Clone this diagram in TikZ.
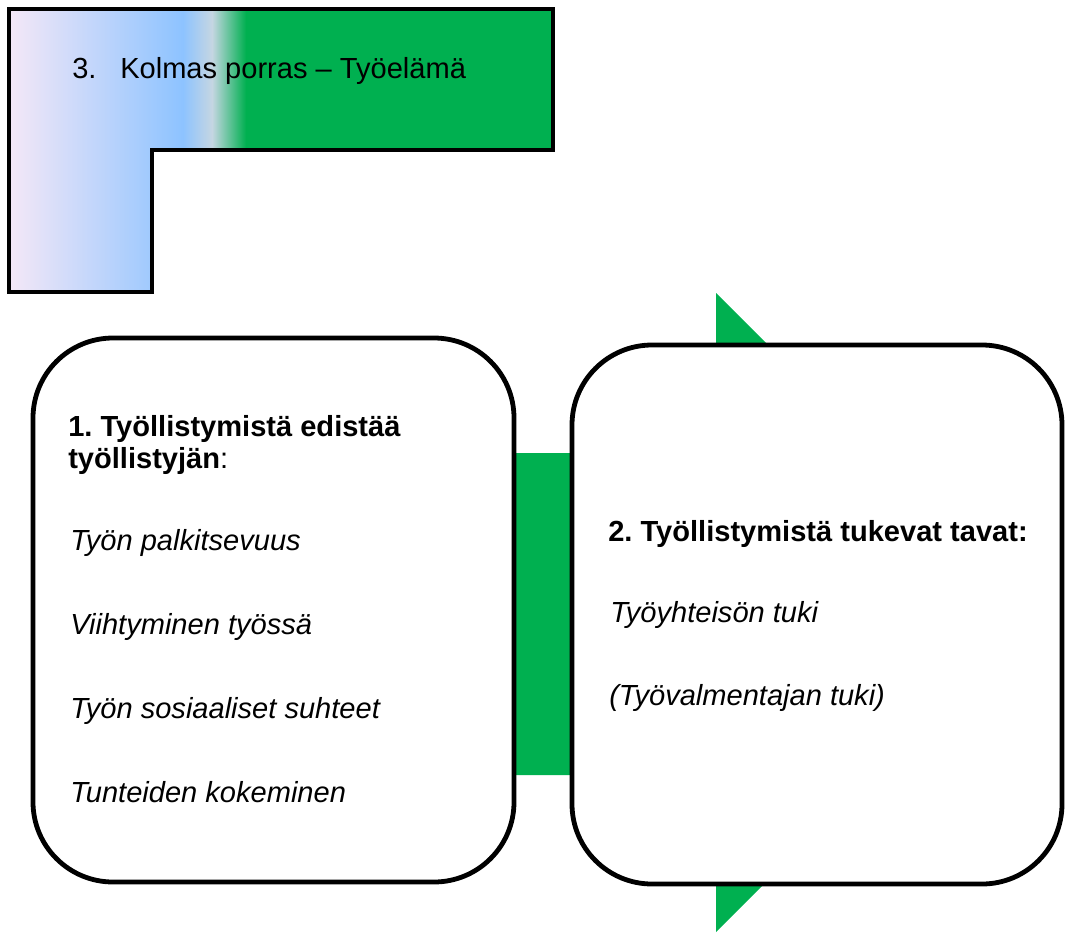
\documentclass[tikz,border=0pt]{standalone}
\usepackage{fontspec}
\setmainfont{Liberation Sans}
\frenchspacing
\begin{document}
\begin{tikzpicture}[x=0.75pt,y=-0.75pt,
  txt/.style={anchor=base west,inner sep=0pt,font=\fontsize{21.8}{24}\selectfont\frenchspacing},
  bx/.style={draw=black,line width=3.6pt,fill=white,rounded corners=60pt,inner sep=0pt},
]
\definecolor{grn}{HTML}{00B050}
\definecolor{lav}{HTML}{F5E8F7}
\definecolor{blu}{HTML}{8DC3FF}
\definecolor{gry}{HTML}{C5D6E2}
\useasboundingbox (0,0) rectangle (1074,932);
% big green arrow behind the boxes
\fill[grn] (300,453) -- (716,453) -- (716,293) -- (1035.5,612.5) -- (716,932) -- (716,775) -- (300,775) -- cycle;
% boxes
\node[bx,minimum width=481*0.75pt,minimum height=544*0.75pt] (left) at (273.5,610) {};
\node[bx,minimum width=490*0.75pt,minimum height=539*0.75pt] (right) at (817,614.5) {};
% L shape
\begin{scope}
\clip (9,9) -- (553,9) -- (553,150) -- (152,150) -- (152,292) -- (9,292) -- cycle;
\shade[left color=lav,right color=blu] (8,8) rectangle (183,293);
\shade[left color=blu,right color=gry] (183,8) rectangle (212,293);
\shade[left color=gry,right color=grn] (212,8) rectangle (246,293);
\fill[grn] (245.5,8) rectangle (554,293);
\end{scope}
\draw[line width=3pt,line join=miter] (9,9) -- (553,9) -- (553,150) -- (152,150) -- (152,292) -- (9,292) -- cycle;
\node[txt] (t3) at (72,78) {3.};
\node[txt] (title) at (120,78) {Kolmas porras – Työelämä};
% left box texts
\node[txt] (h1a) at (68,436) {\bfseries 1. Työllistymistä edistää};
\node[txt] (h1b) at (68,468) {\textbf{työllistyjän}:};
\node[txt] (l1) at (70,550) {\itshape Työn palkitsevuus};
\node[txt] (l2) at (70,634) {\itshape Viihtyminen työssä};
\node[txt] (l3) at (70,718) {\itshape Työn sosiaaliset suhteet};
\node[txt] (l4) at (70,802) {\itshape Tunteiden kokeminen};
% right box texts
\node[txt] (h2) at (608,541) {\bfseries 2. Työllistymistä tukevat tavat:};
\node[txt] (r1) at (610,622) {\itshape Työyhteisön tuki};
\node[txt] (r2) at (609,705) {\itshape (Työvalmentajan tuki)};
\end{tikzpicture}
\end{document}
